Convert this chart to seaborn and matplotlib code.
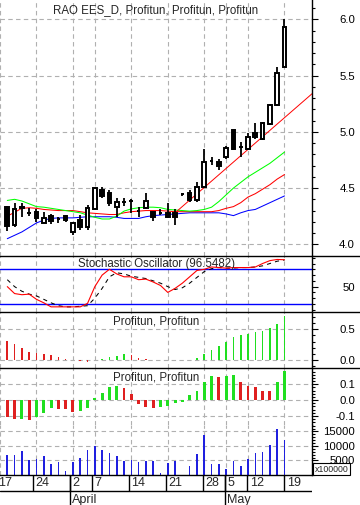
import numpy as np
import pandas as pd
import seaborn as sns
import matplotlib.pyplot as plt
from matplotlib.lines import Line2D
from matplotlib.ticker import FixedLocator, MultipleLocator, FormatStrFormatter

sns.set_style("white")
plt.rcParams["font.family"] = ["Liberation Sans", "DejaVu Sans"]
plt.rcParams["axes.unicode_minus"] = False

# daily bars, 18 Mar .. 19 May
opens = [4.33, 4.17, 4.33, 4.28, 4.29, 4.19, 4.25, 4.225, 4.25, 4.11, 4.22, 4.15, 4.31,
         4.48, 4.46, 4.33, 4.38, 4.385, 4.30, 4.32, 4.29, 4.28, 4.28, 4.28, 4.45, 4.46,
         4.39, 4.51, 4.74, 4.73, 4.78, 5.02, 4.865, 4.85, 4.99, 4.94, 5.07, 5.24, 5.58]
highs = [4.34, 4.37, 4.37, 4.32, 4.31, 4.29, 4.27, 4.24, 4.26, 4.20, 4.26, 4.35, 4.50,
         4.51, 4.48, 4.41, 4.41, 4.40, 4.33, 4.46, 4.29, 4.31, 4.37, 4.31, 4.46, 4.48,
         4.55, 4.85, 4.78, 4.76, 4.87, 5.02, 4.91, 4.99, 5.08, 5.09, 5.25, 5.58, 6.00]
lows = [4.12, 4.15, 4.24, 4.25, 4.20, 4.19, 4.18, 4.19, 4.20, 4.08, 4.13, 4.13, 4.31,
        4.41, 4.34, 4.24, 4.34, 4.28, 4.24, 4.31, 4.21, 4.26, 4.23, 4.17, 4.43, 4.38,
        4.38, 4.51, 4.705, 4.66, 4.76, 4.84, 4.78, 4.84, 4.94, 4.93, 5.06, 5.23, 5.58]
closes = [4.16, 4.31, 4.32, 4.28, 4.23, 4.23, 4.21, 4.225, 4.22, 4.19, 4.15, 4.32, 4.50,
          4.43, 4.37, 4.38, 4.38, 4.385, 4.30, 4.385, 4.24, 4.28, 4.24, 4.245, 4.45, 4.39,
          4.51, 4.73, 4.74, 4.70, 4.86, 4.85, 4.865, 4.95, 4.95, 5.08, 5.24, 5.52, 5.93]

ma_green = [4.39, 4.40, 4.385, 4.36, 4.335, 4.33, 4.32, 4.31, 4.30, 4.29, 4.28, 4.26, 4.24,
            4.225, 4.225, 4.25, 4.295, 4.315, 4.325, 4.33, 4.33, 4.325, 4.31, 4.305, 4.30,
            4.295, 4.30, 4.31, 4.33, 4.38, 4.44, 4.50, 4.55, 4.60, 4.64, 4.68, 4.72, 4.77, 4.82]
ma_red = [4.25, 4.285, 4.32, 4.325, 4.32, 4.31, 4.305, 4.30, 4.30, 4.30, 4.29, 4.28, 4.275,
          4.27, 4.265, 4.265, 4.28, 4.29, 4.295, 4.30, 4.30, 4.30, 4.295, 4.29, 4.29, 4.29,
          4.29, 4.29, 4.29, 4.30, 4.32, 4.335, 4.37, 4.42, 4.45, 4.49, 4.53, 4.58, 4.62]
ma_blue = [4.05, 4.08, 4.11, 4.15, 4.19, 4.215, 4.23, 4.235, 4.235, 4.235, 4.24, 4.245, 4.245,
           4.245, 4.245, 4.24, 4.23, 4.23, 4.23, 4.245, 4.255, 4.26, 4.265, 4.27, 4.275, 4.28,
           4.28, 4.28, 4.28, 4.28, 4.27, 4.255, 4.28, 4.30, 4.31, 4.34, 4.37, 4.40, 4.43]
trend_x = [23, 41.8]
trend_y = [4.28, 5.34]

stoch_k = [50, 38, 36, 37, 28, 22, 15, 15, 15, 15, 15, 21, 50, 70, 80, 72, 67, 67, 62, 63,
           58, 52, 40, 47, 56, 67, 78, 80, 84, 83, 82, 83, 83, 83, 84, 90, 95, 97, 96.5]
stoch_d = [62, 50, 42, 37, 34, 28, 22, 17, 15, 15, 16, 17, 30, 47, 67, 74, 72, 68, 66, 64,
           60, 56, 50, 45, 48, 56, 66, 76, 81, 83, 82, 82, 83, 83, 84, 86, 90, 94, 96]
stoch_levels = [20, 80]

hist1 = [0.31, 0.256, 0.20, 0.135, 0.12, 0.10, 0.08, 0.055, 0.02, 0.005, -0.01, -0.03, 0.005,
         0.02, 0.05, 0.07, 0.10, 0.08, 0.03, 0.02, 0.003, 0.002, 0.001, -0.005, 0.005, 0.006,
         0.03, 0.10, 0.17, 0.23, 0.29, 0.38, 0.41, 0.42, 0.46, 0.48, 0.52, 0.59, 0.71]
hist2 = [-0.110, -0.122, -0.120, -0.125, -0.105, -0.080, -0.053, -0.055, -0.059, -0.074,
         -0.068, -0.053, 0.011, 0.046, 0.084, 0.086, 0.078, 0.036, -0.027, -0.044, -0.049,
         -0.044, -0.036, -0.021, -0.015, 0.032, 0.057, 0.112, 0.152, 0.146, 0.152, 0.158,
         0.116, 0.091, 0.084, 0.059, 0.058, 0.112, 0.186]
volume = [6900, 6900, 8280, 5170, 5400, 6550, 3790, 4600, 1380, 4480, 5860, 8620, 10100,
          8620, 7590, 6670, 4940, 5170, 4600, 4940, 4940, 800, 4140, 4830, 0, 3220, 7360,
          13790, 3910, 3910, 2070, 4830, 3220, 5520, 7590, 8050, 10340, 15860, 12070]

day_pos = [-1, 4, 9, 12, 17, 22, 27, 30, 33, 38]
day_labels = ["17", "24", "2", "7", "14", "21", "28", "5", "12", "19"]
month_pos = [9, 30]
month_labels = ["April", "May"]

idx = np.arange(len(closes))
df = pd.DataFrame({"i": idx, "open": opens, "high": highs, "low": lows, "close": closes,
                   "h1": hist1, "h2": hist2, "vol": volume})
df["d1"] = np.where(df["h1"].diff().fillna(-1) >= 0, "up", "down")
df["d2"] = np.where(df["h2"].diff().fillna(-1) >= 0, "up", "down")

W, H = 360, 505
XR = 312
fig = plt.figure(figsize=(W / 100, H / 100), dpi=100)


def panel(top, bottom):
    return fig.add_axes([0, 1 - bottom / H, XR / W, (bottom - top) / H])


xlim = (-0.45, 41.77)
grid_kw = dict(color="#b0b0b0", lw=0.8, linestyle=(0, (4, 3)))
palette = {"up": "#00ff00", "down": "#ff0000"}


def style(ax, ylim, major, minor, fmt, hgrid=True):
    ax.set_xlim(*xlim)
    ax.set_ylim(*ylim)
    ax.set_xlabel("")
    ax.set_ylabel("")
    for s in ["left", "top", "bottom"]:
        ax.spines[s].set_visible(False)
    ax.spines["right"].set_color("black")
    ax.spines["right"].set_linewidth(1.0)
    ax.set_xticks(day_pos)
    ax.tick_params(axis="x", bottom=False, labelbottom=False)
    ax.grid(axis="x", **grid_kw)
    ax.yaxis.tick_right()
    ax.yaxis.set_major_locator(FixedLocator(major))
    ax.yaxis.set_minor_locator(MultipleLocator(minor))
    ax.yaxis.set_major_formatter(FormatStrFormatter(fmt))
    ax.tick_params(axis="y", which="major", length=4.5, width=0.8, pad=26.5,
                   labelsize=8.2, colors="black")
    ax.tick_params(axis="y", which="minor", length=2.3, width=0.8, colors="black")
    for lab in ax.get_yticklabels():
        lab.set_horizontalalignment("right")
    if hgrid:
        ax.grid(axis="y", which="major", **grid_kw)
    ax.set_axisbelow(True)


def title(ax, y, text):
    ax.text(0.5, y, text, transform=ax.transAxes, ha="center", va="center", fontsize=8.3)


# price panel
ax1 = panel(0, 256)
sns.lineplot(x=idx, y=ma_blue, color="#0000ff", lw=0.75, ax=ax1)
sns.lineplot(x=idx, y=ma_red, color="#ff0000", lw=0.75, ax=ax1)
sns.lineplot(x=idx, y=ma_green, color="#00ff00", lw=0.75, ax=ax1)
sns.lineplot(x=trend_x, y=trend_y, color="#ff0000", lw=0.7, ax=ax1)
ax1.vlines(df["i"], df["low"], df["high"], color="black", lw=1.3, zorder=3)
body_lo = df[["open", "close"]].min(axis=1)
body_h = (df["close"] - df["open"]).abs()
faces = np.where(df["close"] >= df["open"], "white", "black")
ax1.bar(df["i"], body_h, bottom=body_lo, width=0.5, color=faces, edgecolor="black",
        linewidth=1.4, zorder=4)
style(ax1, (3.896, 6.172), [4.0, 4.5, 5.0, 5.5, 6.0], 0.1, "%.1f")
title(ax1, 1 - 10 / 256, "RAO EES_D, Profitun, Profitun, Profitun")

# stochastic
ax2 = panel(256, 312)
for lv in stoch_levels:
    ax2.axhline(lv, color="#0000ff", lw=1.0)
sns.lineplot(x=idx, y=stoch_d, color="black", lw=0.75, linestyle=(0, (4, 4)), ax=ax2)
sns.lineplot(x=idx, y=stoch_k, color="#ff0000", lw=0.8, ax=ax2)
style(ax2, (6.1, 103.0), [50], 10, "%d", hgrid=False)
title(ax2, (312 - 264) / 56, "Stochastic Oscillator (96.5482)")

# first Profitun histogram
ax3 = panel(312, 368)
sns.barplot(data=df, x="i", y="h1", hue="d1", palette=palette, native_scale=True,
            width=0.22, dodge=False, legend=False, linewidth=0, ax=ax3)
style(ax3, (-0.130, 0.783), [0.0, 0.5], 0.1, "%.1f")
title(ax3, (368 - 322) / 56, "Profitun, Profitun")

# second Profitun histogram
ax4 = panel(368, 425)
sns.barplot(data=df, x="i", y="h2", hue="d2", palette=palette, native_scale=True,
            width=0.4, dodge=False, legend=False, linewidth=0, ax=ax4)
style(ax4, (-0.158, 0.2025), [-0.1, 0.0, 0.1], 0.02, "%.1f")
title(ax4, (425 - 377.7) / 57, "Profitun, Profitun")

# volume
ax5 = panel(425, 475)
sns.barplot(data=df, x="i", y="vol", color="#0000ff", native_scale=True, width=0.22,
            linewidth=0, ax=ax5)
style(ax5, (0, 17240), [5000, 10000, 15000], 1000, "%d")
ax5.spines["bottom"].set_visible(True)
ax5.spines["bottom"].set_color("black")
ax5.spines["bottom"].set_linewidth(1.0)

# separators across the full width
for yy in [256, 312, 368]:
    fig.add_artist(Line2D([0, 1], [1 - yy / H] * 2, color="black", lw=1.0,
                          transform=fig.transFigure))

fig.text(331.5 / W, 1 - 469 / H, "x100000", fontsize=6.3, ha="center", va="center",
         bbox=dict(facecolor="white", edgecolor="black", boxstyle="square,pad=0.15", lw=0.8))

# date axis
axd = fig.add_axes([0, 0, XR / W, 30 / H])
axd.set_xlim(*xlim)
axd.set_ylim(0, 1)
axd.axis("off")
mid = 14 / 30
axd.axhline(mid, color="black", lw=1.0)
axd.vlines(day_pos, mid, 1, color="black", lw=1.0)
for p, lab in zip(day_pos, day_labels):
    axd.text(p + 0.35, (505 - 483.5) / 30, lab, ha="left", va="center", fontsize=9)
axd.vlines(month_pos, 0, 1, color="black", lw=1.0)
for p, lab in zip(month_pos, month_labels):
    axd.text(p + 0.3, 5.5 / 30, lab, ha="left", va="center", fontsize=9)

fig.savefig("out.png", dpi=100)
